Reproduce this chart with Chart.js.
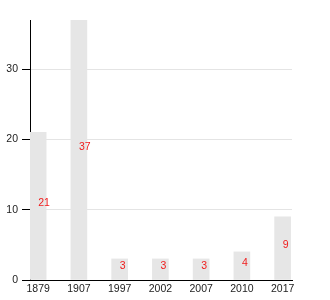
<!DOCTYPE html>
<html>
<head>
<meta charset="utf-8">
<script src="https://cdn.jsdelivr.net/npm/chart.js@4/dist/chart.umd.min.js"></script>
<style>
html,body{margin:0;padding:0;background:#fff;}
#wrap{width:330px;height:300px;}
</style>
</head>
<body>
<div id="wrap"><canvas id="myChart" width="330" height="300"></canvas></div>
<script>
var years = ['1879', '1907', '1997', '2002', '2007', '2010', '2017'];
var counts = [21, 37, 3, 3, 3, 4, 9];
var yTicks = [0, 10, 20, 30];

// value labels, drawn at the middle of each bar
var midLabels = {
	id: 'midLabels',
	afterDatasetsDraw: function(chart){
		var ctx = chart.ctx;
		var meta = chart.getDatasetMeta(0);
		ctx.save();
		ctx.fillStyle = '#f01c1c';
		ctx.font = '10.5px "Liberation Sans", Arial, sans-serif';
		ctx.textAlign = 'left';
		ctx.textBaseline = 'alphabetic';
		meta.data.forEach(function(bar, i){
			ctx.fillText(String(counts[i]), bar.x, (bar.y + bar.base) / 2);
		});
		ctx.restore();
	}
};

function renderChart(){
	var ctx = document.getElementById('myChart').getContext('2d');
	var points = [];
	counts.forEach(function(v, i){ points.push({x: i, y: v}); });
	new Chart(ctx, {
		type: 'bar',
		data: {
			datasets: [{
				data: points,
				backgroundColor: '#e6e6e6',
				borderWidth: 0,
				barThickness: 16
			}]
		},
		plugins: [midLabels],
		options: {
			responsive: false,
			animation: false,
			layout: {padding: {top: 20, right: 38, left: 0, bottom: 0}},
			plugins: {legend: {display: false}, tooltip: {enabled: false}},
			scales: {
				x: {
					type: 'linear',
					offset: false,
					min: -0.2,
					max: 6.23,
					afterBuildTicks: function(s){ s.ticks = years.map(function(_, i){ return {value: i}; }); },
					afterFit: function(s){ s.height = 20; },
					grid: {display: false, offset: false, drawTicks: false, tickLength: 0},
					border: {display: true, color: '#000', width: 1},
					ticks: {
						color: '#222',
						font: {family: '"Liberation Sans", Arial, sans-serif', size: 10.5},
						padding: 3,
						maxRotation: 0,
						autoSkip: false,
						callback: function(v){ return years[v]; }
					}
				},
				y: {
					min: 0,
					max: 37,
					afterBuildTicks: function(s){ s.ticks = yTicks.map(function(v){ return {value: v}; }); },
					afterFit: function(s){ s.width = 30; },
					grid: {color: '#e4e4e4', tickColor: '#000', tickLength: 8},
					border: {display: true, color: '#000', width: 1},
					ticks: {
						color: '#222',
						font: {family: '"Liberation Sans", Arial, sans-serif', size: 10.5},
						padding: 4
					}
				}
			}
		}
	});
}
renderChart();
</script>
</body>
</html>
